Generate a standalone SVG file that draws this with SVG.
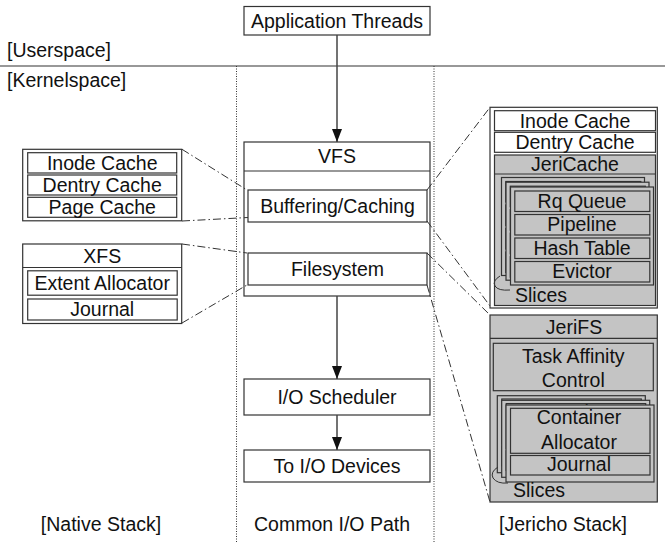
<svg xmlns="http://www.w3.org/2000/svg" xmlns:xlink="http://www.w3.org/1999/xlink" width="665" height="542" viewBox="0 0 665 542">
<defs>
<style>
.box{fill:#fff;stroke:#333;stroke-width:1.2}
.gbox{fill:#c4c4c4;stroke:#333;stroke-width:1.2}
.t{font-family:"Liberation Sans",Arial,sans-serif;font-size:19.5px;fill:#111;text-anchor:middle}
.tl{text-anchor:start}
.dd{stroke:#333;stroke-width:1;stroke-dasharray:8 3 1.5 3;fill:none}
.dot{stroke:#333;stroke-width:1;stroke-dasharray:1 1.5;fill:none}
.sep{stroke:#333;stroke-width:1.2;fill:none}
.arr{stroke:#444;stroke-width:1.5;fill:none;marker-end:url(#ah)}
.br{stroke:#333;stroke-width:1;fill:none}
</style>
<marker id="ah" markerUnits="userSpaceOnUse" markerWidth="13" markerHeight="10" refX="13" refY="5" orient="auto">
<path d="M0,0 L13,5 L0,10 z" fill="#111"/>
</marker>
<g id="cacheLayer">
<rect class="gbox" x="0" y="0" width="143" height="98"/>
<rect class="gbox" x="4.3" y="4" width="135" height="20.5"/>
<text class="t" x="71.5" y="20.7">Rq Queue</text>
<rect class="gbox" x="4.3" y="27.5" width="135" height="20.5"/>
<text class="t" x="71.5" y="44.2">Pipeline</text>
<rect class="gbox" x="4.3" y="51" width="135" height="20.5"/>
<text class="t" x="71.5" y="67.7">Hash Table</text>
<rect class="gbox" x="4.3" y="74.5" width="135" height="20.5"/>
<text class="t" x="71.5" y="91.2">Evictor</text>
</g>
<g id="fsLayer">
<rect class="gbox" x="0" y="0" width="148" height="77"/>
<rect class="gbox" x="4.5" y="3.3" width="139.5" height="45"/>
<text class="t" x="73" y="19">Container</text>
<text class="t" x="73" y="43.5">Allocator</text>
<rect class="gbox" x="4.5" y="50.5" width="139.5" height="19.5"/>
<text class="t" x="73" y="65.5">Journal</text>
</g>
</defs>

<g id="regions">
<line class="sep" x1="0" y1="66" x2="665" y2="66" stroke-width="1"/>
<text class="t tl" x="7" y="57">[Userspace]</text>
<text class="t tl" x="7" y="87">[Kernelspace]</text>
<line class="dot" x1="236.5" y1="66" x2="236.5" y2="542"/>
<line class="dot" x1="434" y1="66" x2="434" y2="542"/>
<text class="t" x="101" y="531">[Native Stack]</text>
<text class="t" x="332" y="531">Common I/O Path</text>
<text class="t" x="563" y="531">[Jericho Stack]</text>
</g>

<g id="app-threads">
<rect class="box" x="244" y="6.5" width="186" height="28.5"/>
<text class="t" x="337" y="28">Application Threads</text>
</g>

<g id="vfs">
<rect class="box" x="244" y="142" width="186" height="154"/>
<line class="sep" x1="244" y1="171" x2="430" y2="171"/>
<text class="t" x="337" y="163">VFS</text>
</g>
<g id="buffering">
<rect class="box" x="248" y="190" width="179" height="32"/>
<text class="t" x="337.5" y="213">Buffering/Caching</text>
</g>
<g id="filesystem">
<rect class="box" x="248" y="253" width="179" height="32"/>
<text class="t" x="337.5" y="276">Filesystem</text>
</g>
<g id="io-scheduler">
<rect class="box" x="244" y="379" width="186" height="36"/>
<text class="t" x="337" y="404">I/O Scheduler</text>
</g>
<g id="io-devices">
<rect class="box" x="244" y="450" width="186" height="32"/>
<text class="t" x="337" y="473">To I/O Devices</text>
</g>

<g id="native-cache">
<rect class="box" x="22.7" y="149.3" width="159" height="71.5"/>
<rect class="box" x="27.7" y="152.7" width="149" height="20.3"/>
<text class="t" x="102.2" y="170">Inode Cache</text>
<rect class="box" x="27.7" y="175" width="149" height="20"/>
<text class="t" x="102.2" y="192">Dentry Cache</text>
<rect class="box" x="27.7" y="197.3" width="149" height="20"/>
<text class="t" x="102.2" y="214">Page Cache</text>
</g>
<g id="native-xfs">
<rect class="box" x="22.7" y="244" width="159" height="79.5"/>
<line class="sep" x1="22.7" y1="267.5" x2="181.7" y2="267.5"/>
<text class="t" x="102.2" y="263">XFS</text>
<rect class="box" x="27.7" y="270.8" width="149.5" height="24.4"/>
<text class="t" x="102.2" y="290">Extent Allocator</text>
<rect class="box" x="27.7" y="299" width="149.5" height="21"/>
<text class="t" x="102.2" y="316">Journal</text>
</g>

<g id="jericho-cache">
<rect class="box" x="490" y="107.3" width="167.3" height="200.7"/>
<rect class="box" x="494.5" y="110.7" width="161" height="20"/>
<text class="t" x="575" y="127.5">Inode Cache</text>
<rect class="box" x="494.5" y="132.3" width="161" height="20"/>
<text class="t" x="575" y="149">Dentry Cache</text>
<rect class="gbox" x="494.5" y="155" width="161" height="150.5"/>
<line class="sep" x1="494.5" y1="174" x2="655.5" y2="174"/>
<text class="t" x="575" y="170.5">JeriCache</text>
<use xlink:href="#cacheLayer" x="501.5" y="177.5"/>
<use xlink:href="#cacheLayer" x="506" y="182.2"/>
<use xlink:href="#cacheLayer" x="510.5" y="187"/>
<path class="br" d="M500 276 Q492 281 495 286 Q498 291 510 290"/>
<text class="t tl" x="515" y="302">Slices</text>
</g>

<g id="jericho-fs">
<rect class="gbox" x="490" y="315" width="167.3" height="187"/>
<line class="sep" x1="490" y1="338.3" x2="657.3" y2="338.3"/>
<text class="t" x="574" y="333.5">JeriFS</text>
<rect class="gbox" x="493.3" y="343.3" width="160" height="47.4"/>
<text class="t" x="573.3" y="363">Task Affinity</text>
<text class="t" x="573.3" y="386.5">Control</text>
<use xlink:href="#fsLayer" x="497.3" y="395.7"/>
<use xlink:href="#fsLayer" x="501.7" y="400.3"/>
<use xlink:href="#fsLayer" x="506" y="405"/>
<path class="br" d="M498 467 Q490 472 493 478 Q497 484 508 483"/>
<text class="t tl" x="513" y="497">Slices</text>
</g>

<g id="connectors">
<line class="arr" x1="337" y1="35" x2="337" y2="142"/>
<line class="arr" x1="337" y1="296" x2="337" y2="379"/>
<line class="arr" x1="337" y1="415" x2="337" y2="450"/>
<line class="dd" x1="182" y1="149.3" x2="247" y2="190"/>
<line class="dd" x1="182" y1="221" x2="248" y2="217.5"/>
<line class="dd" x1="182" y1="244" x2="247" y2="253"/>
<line class="dd" x1="182" y1="323" x2="247" y2="285"/>
<line class="dd" x1="427" y1="190" x2="490" y2="107.3"/>
<line class="dd" x1="427" y1="221" x2="490" y2="306"/>
<line class="dd" x1="427" y1="253" x2="490" y2="315"/>
<line class="dd" x1="427" y1="285" x2="490" y2="502"/>
</g>
</svg>
